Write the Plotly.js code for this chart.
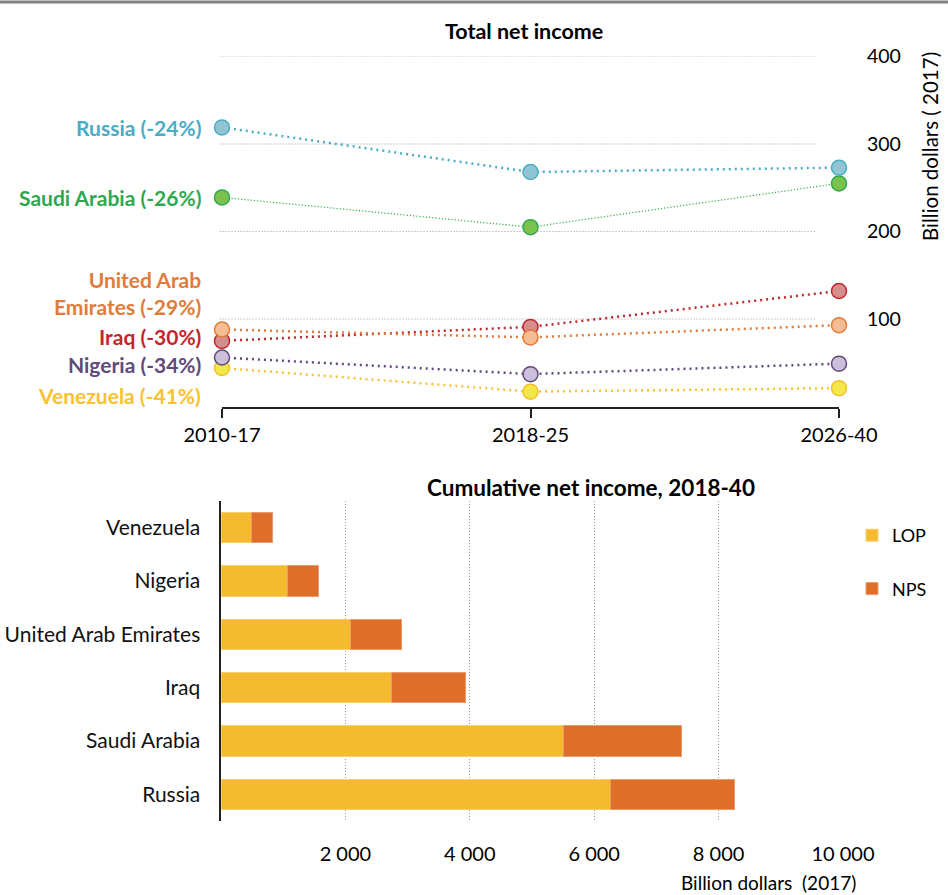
<!DOCTYPE html>
<html>
<head>
<meta charset="utf-8">
<script src="https://cdn.plot.ly/plotly-3.0.1.min.js"></script>
<style>html,body{margin:0;padding:0;background:#fff;}#chart{width:948px;height:895px;}</style>
</head>
<body>
<div id="chart"></div>
<script>
// ---- Top chart data: total net income (billion dollars 2017)
var periods = ['2010-17', '2018-25', '2026-40'];
var topCountries = ['Venezuela', 'Nigeria', 'Iraq', 'United Arab Emirates', 'Saudi Arabia', 'Russia'];
var venezuelaIncome = [44, 17, 21];
var nigeriaIncome = [56, 37, 49];
var iraqIncome = [75, 91, 132];
var uaeIncome = [88, 79, 93];
var saudiIncome = [239, 205, 255];
var russiaIncome = [319, 268, 273];
var changeLabels = ['Venezuela (-41%)', 'Nigeria (-34%)', 'Iraq (-30%)', 'United Arab<br>Emirates (-29%)', 'Saudi Arabia (-26%)', 'Russia (-24%)'];
var topTicks = [100, 200, 300, 400];

// ---- Bottom chart data: cumulative net income 2018-40
var barCountries = ['Russia', 'Saudi Arabia', 'Iraq', 'United Arab Emirates', 'Nigeria', 'Venezuela'];
var lopValues = [6254, 5514, 2738, 2079, 1072, 493];
var npsValues = [1998, 1897, 1185, 815, 499, 338];
var bottomTicks = [2000, 4000, 6000, 8000, 10000];
var bottomTickText = ['2 000', '4 000', '6 000', '8 000', '10 000'];

var FONT = 'Lato, Carlito, Calibri, sans-serif';
var W = 948, H = 895;
function px(x) { return x / W; }
function py(y) { return 1 - y / H; }

var series = [
  {vals: venezuelaIncome, line: '#f9c22e', fill: '#f2e84a', edge: '#f5bf2a', label: '#f9c22e', w: 2.5, dash: '2px,4px', ly: 13},
  {vals: nigeriaIncome, line: '#604a7b', fill: '#cbbfd9', edge: '#604a7b', label: '#604a7b', w: 2.5, dash: '2px,4px', ly: 47.5},
  {vals: iraqIncome, line: '#c0272d', fill: '#d88d8d', edge: '#c0272d', label: '#c0272d', w: 2.5, dash: '2px,4px', ly: 80.5},
  {vals: uaeIncome, line: '#e07b39', fill: '#f6bd92', edge: '#e07b39', label: '#e07b39', w: 2.5, dash: '2px,4px', ly: 130},
  {vals: saudiIncome, line: '#2eaa4c', fill: '#7dc24f', edge: '#2eaa4c', label: '#2ca94f', w: 1.2, dash: '1.2px,2px', ly: 239},
  {vals: russiaIncome, line: '#4bacc6', fill: '#92c5d4', edge: '#4bacc6', label: '#4bacc6', w: 2.5, dash: '2px,4px', ly: 319}
];

var traces = [];
var annotations = [];
series.forEach(function (s, i) {
  traces.push({
    type: 'scatter', mode: 'lines+markers', x: periods, y: s.vals,
    xaxis: 'x', yaxis: 'y', name: topCountries[i], showlegend: false,
    cliponaxis: false,
    line: {color: s.line, width: s.w, dash: s.dash},
    marker: {size: 15, color: s.fill, line: {color: s.edge, width: 1.5}},
    hoverinfo: 'x+y+name'
  });
  annotations.push({
    xref: 'paper', yref: 'y', x: px(203), y: s.ly, xanchor: 'right', yanchor: 'middle',
    text: '<b>' + changeLabels[i] + '</b>', showarrow: false, align: 'right',
    font: {family: FONT, size: 21, color: s.label}
  });
});

traces.push({
  type: 'bar', orientation: 'h', y: barCountries, x: lopValues, name: 'LOP',
  xaxis: 'x2', yaxis: 'y2', legendgroup: 'a',
  marker: {color: '#f5bb2e', line: {color: '#f8cf70', width: 1}}
});
traces.push({
  type: 'bar', orientation: 'h', y: barCountries, x: npsValues, name: 'NPS',
  xaxis: 'x2', yaxis: 'y2', legendgroup: 'b',
  marker: {color: '#de6f2b', line: {color: '#ea9a6c', width: 1}}
});

var shapes = [];
// top separator line
shapes.push({type: 'line', xref: 'paper', yref: 'paper', x0: 0, x1: 1, y0: py(2), y1: py(2), line: {color: '#808080', width: 3}});
// top gridlines
topTicks.forEach(function (v) {
  shapes.push({type: 'line', xref: 'x domain', yref: 'y', x0: -0.004, x1: 0.963, y0: v, y1: v, layer: 'below',
    line: {color: '#9a9a9a', width: 1, dash: '1px,2px'}});
});

annotations.push({xref: 'paper', yref: 'paper', x: px(524), y: py(31), xanchor: 'center', yanchor: 'middle',
  text: '<b>Total net income</b>', showarrow: false, font: {family: FONT, size: 21.5, color: '#000'}});
annotations.push({xref: 'paper', yref: 'paper', x: px(930), y: py(147), xanchor: 'center', yanchor: 'middle', textangle: -90,
  text: 'Billion dollars ( 2017)', showarrow: false, font: {family: FONT, size: 20.5, color: '#000'}});
annotations.push({xref: 'paper', yref: 'paper', x: px(591), y: py(487), xanchor: 'center', yanchor: 'middle',
  text: '<b>Cumulative net income, 2018-40</b>', showarrow: false, font: {family: FONT, size: 22.5, color: '#000'}});
annotations.push({xref: 'paper', yref: 'paper', x: px(768), y: py(882), xanchor: 'center', yanchor: 'middle',
  text: 'Billion dollars  (2017)', showarrow: false, font: {family: FONT, size: 19, color: '#000'}});

var layout = {
  width: W, height: H,
  margin: {l: 0, r: 0, t: 0, b: 0},
  paper_bgcolor: '#fff', plot_bgcolor: 'rgba(0,0,0,0)',
  font: {family: FONT, size: 19, color: '#000'},
  barmode: 'stack', bargap: 0.43,
  showlegend: true,
  legend: {x: px(852), y: py(517), xanchor: 'left', yanchor: 'top', tracegroupgap: 27,
    font: {family: FONT, size: 18, color: '#000'}, bgcolor: 'rgba(0,0,0,0)', traceorder: 'grouped'},
  xaxis: {
    domain: [px(222), px(839)], anchor: 'y', type: 'category', range: [0, 2],
    showgrid: false, zeroline: false, showline: true, linecolor: '#222', linewidth: 2,
    ticks: 'outside', ticklen: 9, tickwidth: 2, tickcolor: '#222',
    tickfont: {family: FONT, size: 20, color: '#000'}, fixedrange: true
  },
  yaxis: {
    domain: [py(406.5), py(56.5)], anchor: 'x', side: 'right', range: [0, 400],
    tickvals: topTicks, showgrid: false, zeroline: false, showline: false, ticks: '',
    ticklabelstandoff: 27, tickfont: {family: FONT, size: 19.5, color: '#000'}, fixedrange: true
  },
  xaxis2: {
    domain: [px(221), px(843)], anchor: 'y2', range: [0, 10000],
    tickvals: bottomTicks, ticktext: bottomTickText,
    showgrid: true, gridcolor: '#9a9a9a', griddash: '1px,2px', gridwidth: 1,
    zeroline: false, showline: false, ticks: '', ticklabelstandoff: 19,
    tickfont: {family: FONT, size: 20, color: '#000'}, fixedrange: true
  },
  yaxis2: {
    domain: [py(821), py(501)], anchor: 'x2', type: 'category',
    categoryorder: 'array', categoryarray: barCountries, range: [-0.5, 5.5],
    showgrid: false, zeroline: false, showline: true, linecolor: '#222', linewidth: 2.5,
    ticks: '', ticklabelstandoff: 14, tickfont: {family: FONT, size: 21, color: '#111'}, fixedrange: true
  },
  shapes: shapes,
  annotations: annotations
};

Plotly.newPlot('chart', traces, layout, {displayModeBar: false, staticPlot: true});
</script>
</body>
</html>
